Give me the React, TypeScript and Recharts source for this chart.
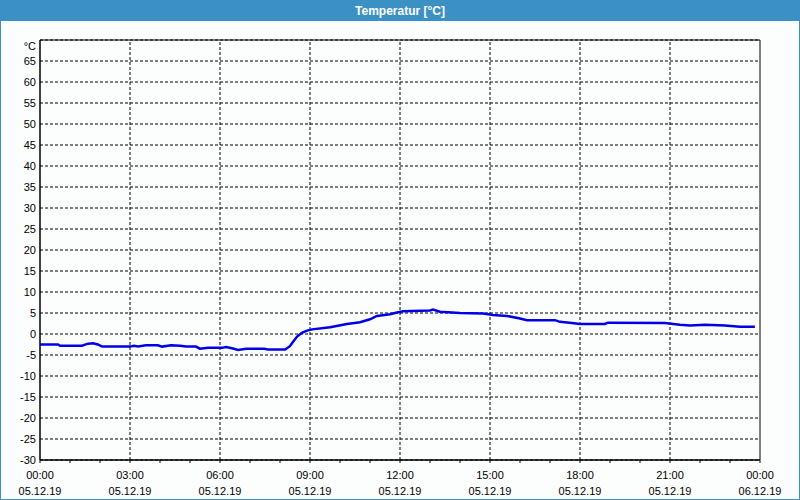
import { LineChart, Line, XAxis, YAxis, CartesianGrid, ReferenceLine, ReferenceArea } from 'recharts';

// time of day in hours, temperature in °C
const hours = [
  0, 0.6, 0.67, 1.4, 1.6, 1.77, 1.93, 2.07, 3.0, 3.13, 3.27, 3.53, 3.93, 4.07, 4.37, 4.67, 4.87, 5.2, 5.33, 5.6,
  6.07, 6.2, 6.4, 6.6, 6.87, 7.47, 7.6, 8.17, 8.33, 8.43, 8.57, 8.73, 8.9, 9.07, 9.67, 10.23, 10.67, 11.0, 11.23,
  11.67, 11.9, 12.1, 13.0, 13.1, 13.33, 14.0, 14.77, 15.1, 15.57, 16.0, 16.23, 17.17, 17.33, 17.73, 18.0, 18.83,
  18.93, 20.83, 21.33, 21.67, 22.17, 22.83, 23.33, 23.83,
];
const temps = [
  -2.5, -2.5, -2.8, -2.8, -2.3, -2.2, -2.5, -3.0, -3.0, -2.8, -3.0, -2.7, -2.7, -3.0, -2.7, -2.8, -3.0, -3.0, -3.5, -3.3,
  -3.3, -3.1, -3.4, -3.8, -3.5, -3.5, -3.7, -3.7, -2.9, -1.9, -0.6, 0.3, 0.8, 1.1, 1.6, 2.4, 2.8, 3.5, 4.3,
  4.7, 5.1, 5.4, 5.6, 5.8, 5.3, 5.0, 4.9, 4.5, 4.3, 3.7, 3.3, 3.3, 2.9, 2.6, 2.4, 2.4,
  2.7, 2.6, 2.2, 2.0, 2.2, 2.0, 1.7, 1.7,
];

const hourTicks = Array.from({ length: 25 }, (_, i) => i);
const gridHours = [3, 6, 9, 12, 15, 18, 21];
const timeLabels = ['00:00', '03:00', '06:00', '09:00', '12:00', '15:00', '18:00', '21:00', '00:00'];
const dateLabels = ['05.12.19', '05.12.19', '05.12.19', '05.12.19', '05.12.19', '05.12.19', '05.12.19', '05.12.19', '06.12.19'];
const yTicks = [-30, -25, -20, -15, -10, -5, 0, 5, 10, 15, 20, 25, 30, 35, 40, 45, 50, 55, 60, 65, 70];

const data = hours.map((h, i) => ({ h, t: temps[i] }));

const FONT = '"Liberation Sans", Arial, sans-serif';
const BLUE = '#3c91c4';
const DASH = '3 2';

const XTick = (props: any) => {
  const { x, y, payload } = props;
  const v = payload.value;
  if (v % 3 !== 0) return null;
  const idx = v / 3;
  return (
    <g>
      <text x={x} y={y + 14} textAnchor="middle" fontSize={11} fill="#000" fontFamily={FONT}>{timeLabels[idx]}</text>
      <text x={x} y={y + 30} textAnchor="middle" fontSize={11} fill="#000" fontFamily={FONT}>{dateLabels[idx]}</text>
    </g>
  );
};

const YTick = (props: any) => {
  const { x, y, payload } = props;
  const v = payload.value;
  const label = v === 70 ? '°C' : String(v);
  return (
    <text x={x} y={y + (v === 70 ? 6 : 0)} dy={4} textAnchor="end" fontSize={11} fill="#000" fontFamily={FONT}>{label}</text>
  );
};

export default function App() {
  return (
    <div style={{ position: 'fixed', top: 0, left: 0, width: 800, height: 500, boxSizing: 'border-box', border: `1px solid ${BLUE}`, background: '#fcfdfd' }}>
      <div style={{ position: 'absolute', top: 0, left: 0, right: 0, height: 20, background: BLUE, color: '#fff', fontFamily: FONT, fontWeight: 'bold', fontSize: 12, lineHeight: '20px', textAlign: 'center' }}>
        Temperatur [°C]
      </div>
      <div style={{ position: 'absolute', top: -1, left: -1 }}>
        <LineChart width={800} height={500} data={data} margin={{ top: 40, right: 40, bottom: 5, left: 5 }}>
          <CartesianGrid vertical={false} stroke="#000" strokeDasharray={DASH} />
          <XAxis
            dataKey="h"
            type="number"
            domain={[0, 24]}
            ticks={hourTicks}
            interval={0}
            height={35}
            tick={<XTick />}
            tickSize={3}
            tickLine={{ stroke: '#000' }}
            axisLine={{ stroke: '#000' }}
          />
          <YAxis
            type="number"
            domain={[-30, 70]}
            ticks={yTicks}
            interval={0}
            width={35}
            tick={<YTick />}
            tickLine={false}
            tickSize={2}
            tickMargin={2}
            axisLine={{ stroke: '#000' }}
          />
          {gridHours.map((g) => (
            <ReferenceLine key={g} x={g} stroke="#000" strokeDasharray={DASH} />
          ))}
          <ReferenceArea x1={0} x2={24} y1={-30} y2={70} fill="none" stroke="#000" strokeOpacity={1} />
          <Line dataKey="t" type="linear" stroke="#0000e6" strokeWidth={2.5} dot={false} isAnimationActive={false} />
        </LineChart>
      </div>
    </div>
  );
}
